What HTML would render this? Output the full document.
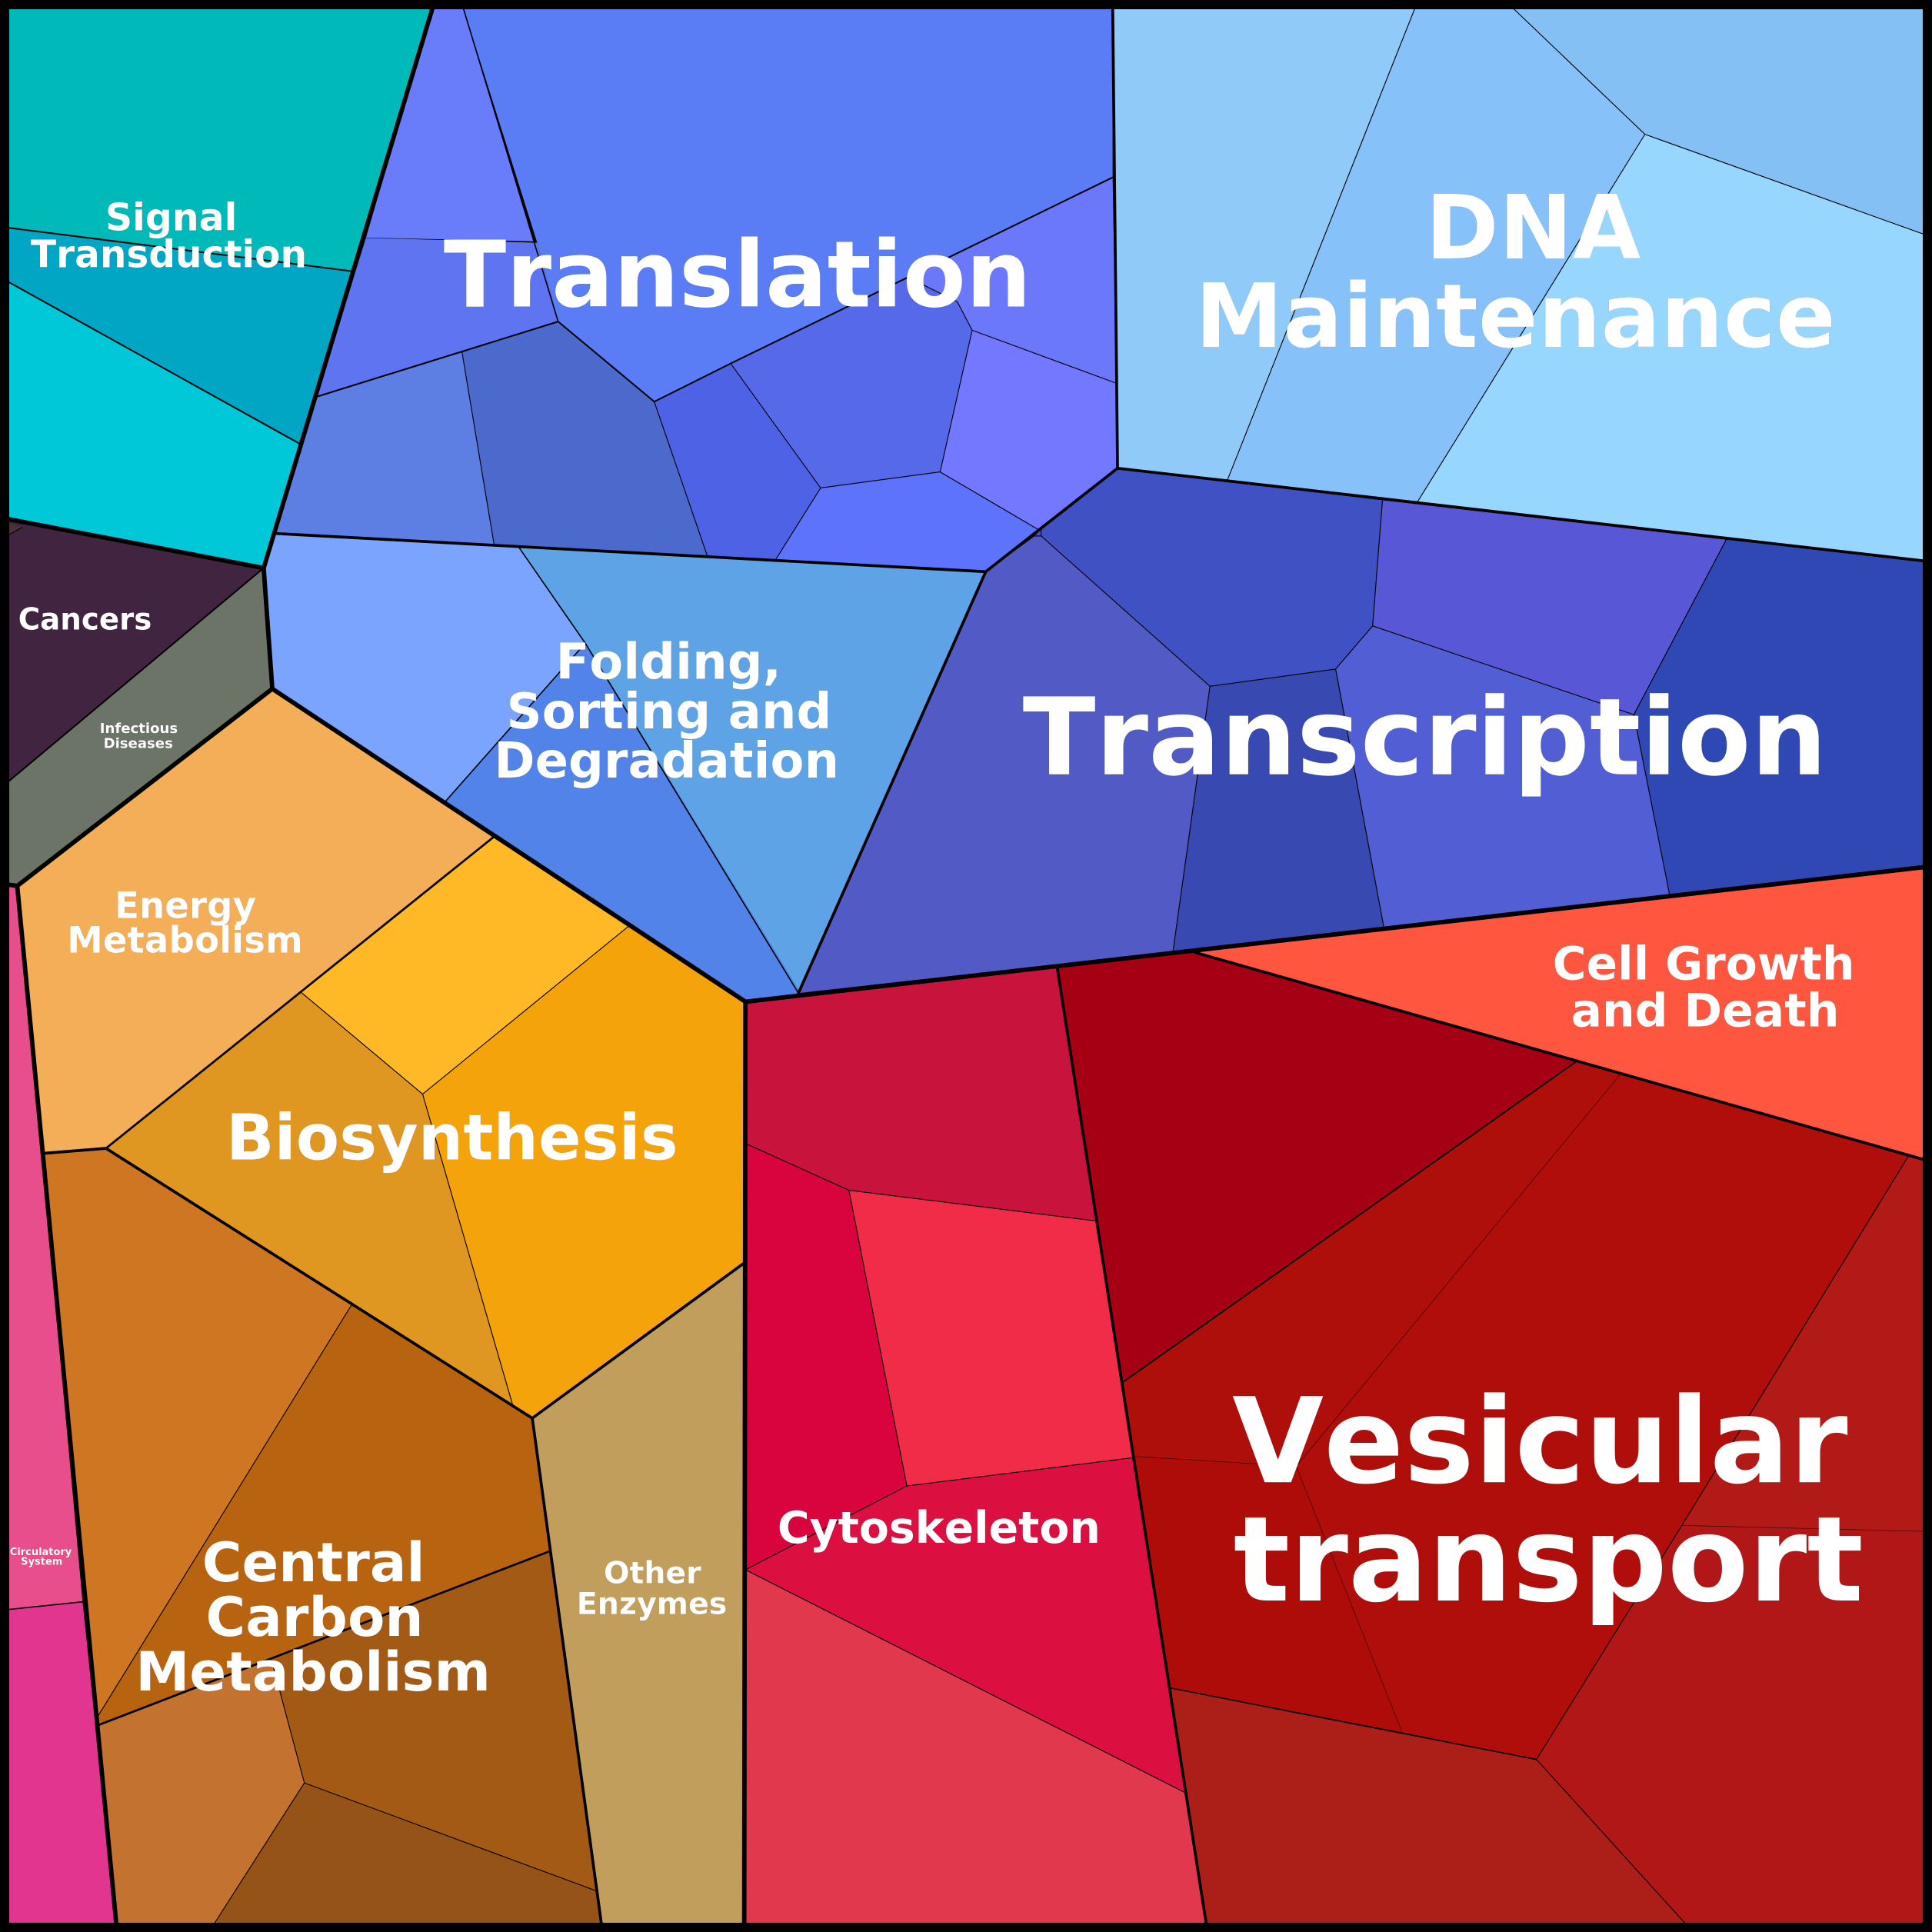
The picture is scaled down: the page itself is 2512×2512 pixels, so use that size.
<!DOCTYPE html>
<html><head><meta charset="utf-8"><style>
html,body{margin:0;padding:0;background:#000}
svg{display:block}
text{font-family:"DejaVu Sans",sans-serif;font-weight:bold;fill:#fff;text-anchor:start;font-kerning:none}
.t{filter:drop-shadow(.9px .9px 0 rgba(0,0,0,.8))}
</style></head><body>
<svg xmlns="http://www.w3.org/2000/svg" width="2512" height="2512" viewBox="0 0 1568 1568">
<rect width="1568" height="1568" fill="#000"/>
<g>
<polygon fill="#00BABA" points="0,0 353,0 285,220 0,184"/>
<polygon fill="#00A6C4" points="0,184 285,220 243,360 0,225"/>
<polygon fill="#00C8D8" points="0,225 243,360 214,461 0,420"/>
<polygon fill="#412440" points="0,422 214,461 0,640"/>
<polygon fill="#4A3236" points="0,422 18,428 0,438"/>
<polygon fill="#6B7466" points="214,461 221,559 14,719 0,717 0,640"/>
<polygon fill="#E84E8C" points="0,717 14,719 67,1300 0,1307"/>
<polygon fill="#E23590" points="0,1307 67,1300 95,1568 0,1568"/>
<polygon fill="#F5AE58" points="221,559 401,679 244,805 86,932 36,936 14,719"/>
<polygon fill="#FFB927" points="401,679 511,751 343,888 244,805"/>
<polygon fill="#F4A40A" points="511,751 605,813 604,1025 432,1151 416,1140 343,888"/>
<polygon fill="#DF9721" points="244,805 343,888 416,1140 286,1058 86,932"/>
<polygon fill="#CF7622" points="36,936 86,932 286,1058 80,1392 80,1402"/>
<polygon fill="#B86310" points="286,1058 416,1140 432,1151 446,1259 80,1400 80,1392"/>
<polygon fill="#A35A14" points="446,1259 485,1535 247,1447 220,1346"/>
<polygon fill="#C47230" points="80,1400 220,1346 247,1447 169.5,1568 95,1568"/>
<polygon fill="#965318" points="247,1447 485,1535 489,1568 169.5,1568"/>
<polygon fill="#C29E5C" points="604,1025 604,1568 489,1568 432,1151"/>
<polygon fill="#5A7CF4" points="374,0 903,0 903,144 737,225 593,295 531,326 453,261 436,197"/>
<polygon fill="#697DFA" points="353,0 374,0 433,196 297,193"/>
<polygon fill="#5E74F0" points="297,193 436,197 453,261 257,322"/>
<polygon fill="#5D7EE2" points="257,322 375,286 401,442 224,433"/>
<polygon fill="#4C69CC" points="375,286 453,261 531,326 574,451 401,442"/>
<polygon fill="#4E62E6" points="531,326 593,295 666,396 629,455 574,451"/>
<polygon fill="#5669E8" points="593,295 737,225 777,245 789,268 763,383 666,396"/>
<polygon fill="#6B78FA" points="903,144 906,311 789,268 777,245 737,225"/>
<polygon fill="#7278FF" points="789,268 906,311 907,380 843,430 763,383"/>
<polygon fill="#5D73FB" points="666,396 763,383 843,430 800,464 629,455"/>
<polygon fill="#7BA4FF" points="224,433 421,444 475,522 361,651 221,559 214,461"/>
<polygon fill="#5EA3E6" points="421,444 800,464 648,806 548,640 475,522"/>
<polygon fill="#5183E8" points="361,651 475,522 548,640 650,806 605,813 401,679"/>
<polygon fill="#4051C4" points="907,380 1122,406 1114,508 1084,543 982,557 845,435 845,429"/>
<polygon fill="#5858D6" points="1122,406 1401,438 1326,580 1114,508"/>
<polygon fill="#2F48B4" points="1401,438 1568,456 1568,703 1355,726 1326,580"/>
<polygon fill="#525AC6" points="840,435 845,435 982,557 952,772 648,806 800,464"/>
<polygon fill="#4A50C8" points="840,435 845,435 845,429"/>
<polygon fill="#384AB2" points="982,557 1084,543 1123,752 952,772"/>
<polygon fill="#525FD4" points="1084,543 1114,508 1326,580 1355,726 1123,752"/>
<polygon fill="#90CAF8" points="903,0 1151,0 996,390 907,380"/>
<polygon fill="#87C1FA" points="1151,0 1221,0 1335,109 1150,408 996,390"/>
<polygon fill="#84C0F4" points="1221,0 1568,0 1568,192.5 1335,109"/>
<polygon fill="#97D6FE" points="1335,109 1568,192.5 1568,456 1150,408"/>
<polygon fill="#FF5640" points="970,773 1568,703 1568,943"/>
<polygon fill="#C8143C" points="605,813 858,785 890,991 689,966 605,928"/>
<polygon fill="#D9043E" points="605,928 689,966 736,1206 605,1276"/>
<polygon fill="#F02C48" points="689,966 890,991 920,1183 736,1206"/>
<polygon fill="#DC1040" points="736,1206 920,1183 962,1455 605,1274"/>
<polygon fill="#E2384E" points="605,1274 962,1455 980,1568 605,1568"/>
<polygon fill="#A50014" points="858,785 970,772 1280,861 911,1122"/>
<polygon fill="#AE0F0B" points="1280,861 1315,872 1052,1190 920,1182 911,1122"/>
<polygon fill="#AF0E0B" points="1315,872 1549,938 1365,1238 1247,1428 1138,1406 1052,1190"/>
<polygon fill="#AD0C08" points="920,1182 1052,1190 1138,1406 950,1370"/>
<polygon fill="#B11A17" points="1549,938 1568,943 1568,1243 1365,1238"/>
<polygon fill="#B11716" points="1365,1238 1568,1243 1568,1568 1374,1568 1247,1428"/>
<polygon fill="#AC1F18" points="950,1370 1247,1428 1374,1568 980,1568"/>
</g>
<g fill="none" stroke="#000" stroke-linejoin="round" stroke-linecap="round">
<path stroke="#000" stroke-opacity=".55" stroke-width=".5" d="M1315,872 L1052,1190 L1138,1406 M920,1182 L1052,1190 M1365,1238 L1568,1243 M297,193 L433,196"/>
<path stroke-width=".7" d="M375,286 L401,442 M531,326 L574,451 M593,295 L666,396 L629,455 M666,396 L763,383 L789,268 L777,245 L737,225 M789,268 L906,311 M763,383 L843,430 M845,429 L845,435 L982,557 L1084,543 L1114,508 L1122,406 M840,435 L845,435 M1114,508 L1326,580 L1401,438 M982,557 L952,772 M1084,543 L1123,752 M1326,580 L1355,726 M1151,0 L996,390 M1221,0 L1335,109 L1150,408 M1335,109 L1568,192.5 M511,751 L343,888 L244,805 M343,888 L416,1140 M286,1058 L80,1392 M220,1346 L247,1447 L485,1535 M247,1447 L169.5,1568 M605,928 L689,966 L890,991 M689,966 L736,1206 L920,1183 M736,1206 L605,1274 L962,1455 M1247,1428 L1365,1238 L1549,938 M1247,1428 L1374,1568 M0,438 L18,428"/>
<path stroke-width="1" d="M421,444 L475,522 L648,806 M361,651 L475,522 M0,1307 L67,1300 M950,1370 L1247,1428 M374,0 L453,261"/>
<path stroke-width="1.25" d="M0,184 L285,220 M0,225 L243,360 M257,322 L453,261 L531,326 L593,295 L737,225 L903,144 M214,461 L0,640 M911,1122 L1280,861"/>
<path stroke-width="1.7" d="M446,1259 L80,1400 M401,679 L86,932"/>
<path stroke-width="2.3" d="M903,0 L907,380 L1568,456 M907,380 L800,464 L648,806 M800,464 L224,433 M36,936 L86,932 L432,1151 L604,1025 M432,1151 L489,1568 M970,773 L1568,943 M858,785 L980,1568"/>
<path stroke-width="3.6" d="M353,0 L214,461 L0,420 M214,461 L221,559 L605,813 L1568,703 M605,813 L604,1568 M221,559 L14,719 L0,717 M14,719 L95,1568"/>
</g>
<rect x="3.75" y="3.75" width="1560.5" height="1560.5" fill="none" stroke="#000" stroke-width="7.5"/>
<g class="t">
<text x="85.5" y="187" font-size="30.5">Signal</text>
<text x="25" y="217" font-size="30.3">Transduction</text>
<text x="14.8" y="511" font-size="24.2">Cancers</text>
<text x="81" y="595" font-size="11.3">Infectious</text>
<text x="84" y="607" font-size="11.3">Diseases</text>
<text x="8" y="1262" font-size="8.1">Circulatory</text>
<text x="17" y="1270" font-size="8.1">System</text>
<text x="93" y="745" font-size="29.2">Energy</text>
<text x="54.5" y="773" font-size="29.2">Metabolism</text>
<text x="183.5" y="941" font-size="51.3">Biosynthesis</text>
<text x="164" y="1283.4" font-size="44">Central</text>
<text x="167" y="1327.8" font-size="44">Carbon</text>
<text x="110" y="1372" font-size="44">Metabolism</text>
<text x="490" y="1285" font-size="24.6">Other</text>
<text x="468" y="1310" font-size="24.7">Enzymes</text>
<text x="451" y="551" font-size="40">Folding,</text>
<text x="411" y="591" font-size="40">Sorting and</text>
<text x="401" y="631" font-size="40">Degradation</text>
<text x="360" y="248.7" font-size="74.6">Translation</text>
<text x="1157" y="209.7" font-size="71.6">DNA</text>
<text x="970" y="281.5" font-size="71.7">Maintenance</text>
<text x="830" y="628.4" font-size="86.8">Transcription</text>
<text x="1000" y="1203" font-size="96">Vesicular</text>
<text x="1001" y="1299" font-size="96">transport</text>
<text x="631" y="1252" font-size="35.5">Cytoskeleton</text>
<text x="1260" y="795" font-size="37.4">Cell Growth</text>
<text x="1275" y="833" font-size="37.4">and Death</text>
</g>
</svg>
</body></html>
